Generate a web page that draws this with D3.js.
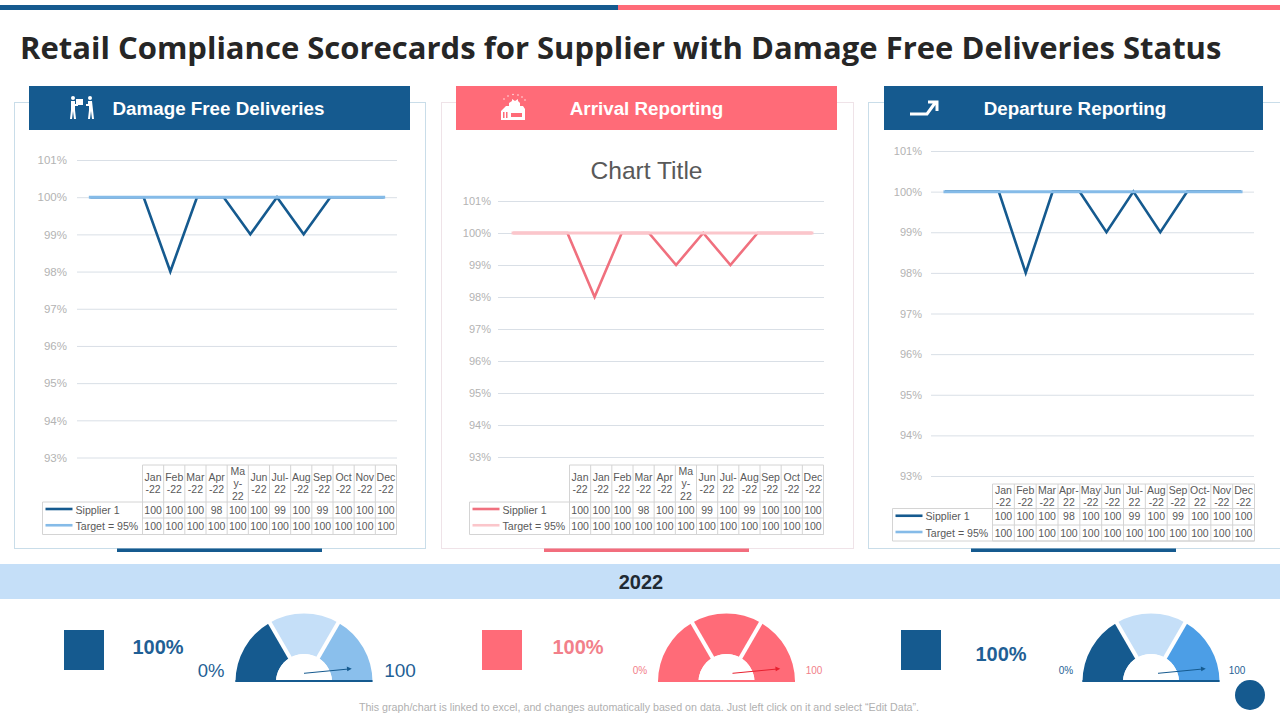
<!DOCTYPE html>
<html>
<head>
<meta charset="utf-8">
<script src="https://cdn.jsdelivr.net/npm/d3@7"></script>
<style>
html,body{margin:0;padding:0;background:#fff;overflow:hidden}
svg{display:block}
text{font-family:"Liberation Sans",Arial,sans-serif}
</style>
</head>
<body>
<svg id="chart" width="1280" height="720"></svg>
<script>
// chart data
const supplier1 = [100,100,100,98,100,100,99,100,99,100,100,100];
const targetLine = [100,100,100,100,100,100,100,100,100,100,100,100];
const yTicks = [93,94,95,96,97,98,99,100,101];
const seriesNames = ["Sipplier 1","Target = 95%"];

// month labels wrap differently in each table, the middle one also repeats Jan and has no Nov
const monthsA = [["Jan","-22"],["Feb","-22"],["Mar","-22"],["Apr","-22"],["Ma","y-","22"],["Jun","-22"],["Jul-","22"],["Aug","-22"],["Sep","-22"],["Oct","-22"],["Nov","-22"],["Dec","-22"]];
const monthsB = [["Jan","-22"],["Jan","-22"],["Feb","-22"],["Mar","-22"],["Apr","-22"],["Ma","y-","22"],["Jun","-22"],["Jul-","22"],["Aug","-22"],["Sep","-22"],["Oct","-22"],["Dec","-22"]];
const monthsC = [["Jan","-22"],["Feb","-22"],["Mar","-22"],["Apr-","22"],["May","-22"],["Jun","-22"],["Jul-","22"],["Aug","-22"],["Sep","-22"],["Oct-","22"],["Nov","-22"],["Dec","-22"]];

const gaugeSegments = [1,1,1];
const gaugeValue = 100;

const blue = "#155a8f";
const coral = "#ff6b78";

const svg = d3.select("#chart");

// top bar
svg.append("rect").attr("x",0).attr("y",5).attr("width",618).attr("height",5).attr("fill",blue);
svg.append("rect").attr("x",618).attr("y",5).attr("width",662).attr("height",5).attr("fill",coral);

svg.append("text")
  .attr("x",20).attr("y",59)
  .style("font-family","'Open Sans'")
  .style("font-weight",700)
  .style("font-size","31px")
  .attr("fill","#262626")
  .text("Retail Compliance Scorecards for Supplier with Damage Free Deliveries Status");

// each scorecard panel
let drawPanel = (c)=>{
  let g = svg.append("g");

  g.append("rect")
    .attr("x",c.box[0]+.5).attr("y",102.5)
    .attr("width",c.box[1]-c.box[0]).attr("height",446)
    .attr("fill","#fff").attr("stroke",c.border);

  g.append("rect")
    .attr("x",c.head[0]).attr("y",86)
    .attr("width",c.head[1]-c.head[0]).attr("height",44)
    .attr("fill",c.color);

  g.append("text")
    .attr("x",c.titleX).attr("y",115)
    .attr("text-anchor","middle")
    .attr("fill","#fff")
    .style("font-weight",700)
    .style("font-size","18.8px")
    .text(c.title);

  g.append("rect")
    .attr("x",c.accent).attr("y",548.5)
    .attr("width",205).attr("height",3.5)
    .attr("fill",c.accentColor);

  if(c.chartTitle){
    g.append("text")
      .attr("x",646.5).attr("y",179)
      .attr("text-anchor","middle")
      .attr("fill","#595959")
      .style("font-size","24.6px")
      .text(c.chartTitle);
  }

  let xScale = d3.scaleBand().domain(d3.range(12)).range([c.plot[0]+c.lineShift,c.plot[1]+c.lineShift]);
  let yScale = d3.scaleLinear().domain([93,101]).range([c.y93,c.y101]);

  let yAxis = d3.axisLeft(yScale)
    .tickValues(yTicks)
    .tickSize(c.plot[0]-c.plot[1])
    .tickPadding(c.tickPad)
    .tickFormat(d=>d+"%");

  let axisG = g.append("g")
    .attr("transform","translate("+c.plot[0]+",0)")
    .call(yAxis);
  axisG.select(".domain").remove();
  axisG.selectAll(".tick line")
    .attr("x1",0).attr("x2",c.plot[1]-c.plot[0])
    .attr("stroke","#d9dfe6");
  axisG.selectAll(".tick text")
    .attr("fill","#b3b3b3")
    .style("font-family","'Liberation Sans'")
    .style("font-size",c.tickFont);

  let line = d3.line()
    .x((d,i)=>xScale(i)+xScale.bandwidth()/2)
    .y(d=>yScale(d));

  g.append("path").datum(supplier1)
    .attr("d",line).attr("fill","none")
    .attr("stroke",c.lineColor).attr("stroke-width",2.6);
  g.append("path").datum(targetLine)
    .attr("d",line).attr("fill","none")
    .attr("stroke",c.targetColor).attr("stroke-width",3)
    .attr("stroke-linecap","square");

  drawTable(g,c);
};

// data table under the plot
let drawTable = (g,c)=>{
  let t = c.table;
  let colScale = d3.scaleBand().domain(d3.range(12)).range([t.colStart,t.right]);
  let rowBottoms = [t.head,t.row1,t.row2];
  let gridColor = "#d4d4d4";
  let edge = (x1,y1,x2,y2)=>g.append("line")
    .attr("x1",x1).attr("y1",y1).attr("x2",x2).attr("y2",y2)
    .attr("stroke",gridColor).attr("stroke-width",1);

  edge(t.colStart,t.top,t.right,t.top);
  rowBottoms.forEach((y,i)=>edge(i==0?t.left:t.colStart,y,t.right,y));
  rowBottoms.slice(2).forEach(y=>edge(t.left,y,t.right,y));
  edge(t.left,t.head,t.left,t.row2);
  d3.range(13).forEach(i=>{
    let x = i==12 ? t.right : colScale(i);
    edge(x,t.top,x,t.row2);
  });

  c.months.forEach((lines,i)=>{
    let cx = colScale(i)+colScale.bandwidth()/2;
    let mid = (t.top+t.head)/2;
    lines.forEach((s,k)=>{
      g.append("text")
        .attr("x",cx)
        .attr("y",mid+(k-(lines.length-1)/2)*12.4+3.7)
        .attr("text-anchor","middle")
        .attr("fill","#595959")
        .style("font-size","10.5px")
        .text(s);
    });
  });

  [supplier1,targetLine].forEach((values,r)=>{
    let top = rowBottoms[r], bottom = rowBottoms[r+1], mid = (top+bottom)/2;
    g.append("line")
      .attr("x1",t.left+3).attr("x2",t.left+30)
      .attr("y1",mid-1).attr("y2",mid-1)
      .attr("stroke",r==0?c.lineColor:c.targetColor)
      .attr("stroke-width",2.6);
    g.append("text")
      .attr("x",t.left+33).attr("y",mid+3.5)
      .attr("fill","#595959")
      .style("font-size","10.6px")
      .text(seriesNames[r]);
    values.forEach((v,i)=>{
      g.append("text")
        .attr("x",colScale(i)+colScale.bandwidth()/2)
        .attr("y",mid+3.5)
        .attr("text-anchor","middle")
        .attr("fill","#595959")
        .style("font-size","10.5px")
        .text(v);
    });
  });
};

const panels = [
  {title:"Damage Free Deliveries",titleX:218.5,box:[14,425],head:[29,410],color:blue,accent:117,accentColor:blue,
   border:"#c9dde9",plot:[77,397],lineShift:0,y101:160,y93:457.5,tickPad:10,tickFont:"11.5px",
   lineColor:blue,targetColor:"#85bbe8",months:monthsA,
   table:{left:42.5,colStart:142.5,right:396.5,top:465,head:502,row1:518,row2:534.5}},
  {title:"Arrival Reporting",titleX:646.5,box:[441,853],head:[456,837],color:coral,accent:544,accentColor:"#f26d7d",
   border:"#efe3e8",plot:[498,824],lineShift:1.5,y101:201,y93:457,tickPad:7,tickFont:"11px",chartTitle:"Chart Title",
   lineColor:"#f0707e",targetColor:"#fbc6cb",months:monthsB,
   table:{left:469.5,colStart:569.5,right:823.5,top:465,head:502,row1:518,row2:534.5}},
  {title:"Departure Reporting",titleX:1075,box:[868,1280],head:[884,1263],color:blue,accent:971,accentColor:blue,
   border:"#c9dde9",plot:[931,1254],lineShift:.5,y101:151,y93:476,tickPad:9,tickFont:"11px",
   lineColor:blue,targetColor:"#85bbe8",months:monthsC,
   table:{left:892.5,colStart:992.5,right:1254.5,top:484,head:508.5,row1:525,row2:541}}
];
panels.forEach(drawPanel);

// header icons
let icon1 = svg.append("g").attr("fill","#fff").attr("stroke","none");
icon1.append("circle").attr("cx",73).attr("cy",98).attr("r",2);
icon1.append("circle").attr("cx",90).attr("cy",98).attr("r",2);
icon1.append("path").attr("d","M71 101h4v3h3v2h-3v4l1 9h-2l-1-8-1 8h-2l1-9z");
icon1.append("path").attr("d","M88 101h4l1 9 1 9h-2l-1-8-1 8h-2l1-9v-4h-3v-2h2z");
icon1.append("rect").attr("x",76).attr("y",99).attr("width",7).attr("height",6);

let icon2 = svg.append("g").attr("fill","#fff");
icon2.append("path").attr("d","M501 120v-9l5-5h3v-3l3-2v-2l3 2 3-2v2l2 2v3h3l2 3v11z");
icon2.append("rect").attr("x",503).attr("y",112).attr("width",1.5).attr("height",6).attr("fill",coral);
icon2.append("rect").attr("x",506).attr("y",112).attr("width",1.5).attr("height",6).attr("fill",coral);
icon2.append("rect").attr("x",511).attr("y",113).attr("width",11).attr("height",4).attr("fill",coral);
icon2.selectAll("circle").data([[504,99],[508,96],[513,94.5],[518,95],[522,97],[525,100]]).enter().append("circle")
  .attr("cx",d=>d[0]).attr("cy",d=>d[1]).attr("r",.7);

svg.append("path")
  .attr("d","M910 114h17l8-11M928 102h9v9")
  .attr("fill","none").attr("stroke","#fff").attr("stroke-width",3);

// year band
svg.append("rect").attr("x",0).attr("y",564).attr("width",1280).attr("height",35).attr("fill","#c5dff8");
svg.append("text")
  .attr("x",641).attr("y",589)
  .attr("text-anchor","middle")
  .attr("fill","#1f2a33")
  .style("font-weight",700)
  .style("font-size","20px")
  .text("2022");

// gauges
let drawGauge = (c)=>{
  let g = svg.append("g");

  g.append("rect")
    .attr("x",c.square).attr("y",630)
    .attr("width",40).attr("height",40)
    .attr("fill",c.squareColor);

  g.append("text")
    .attr("x",c.pctX).attr("y",c.pctY)
    .attr("text-anchor","middle")
    .attr("fill",c.pctColor)
    .style("font-weight",700)
    .style("font-size","20px")
    .text(gaugeValue+"%");

  let pie = d3.pie().sort(null).startAngle(-Math.PI/2).endAngle(Math.PI/2);
  let arcs = pie(gaugeSegments);
  let arc = d3.arc().innerRadius(28).outerRadius(68.5);
  let base = g.append("g").attr("transform","translate("+c.cx+",682)");

  base.selectAll("path").data(arcs).enter().append("path")
    .attr("d",arc)
    .attr("fill",(d,i)=>c.colors[i]);

  // white gaps between segments
  arcs.slice(1).forEach(d=>{
    base.append("line")
      .attr("x1",Math.sin(d.startAngle)*24).attr("y1",-Math.cos(d.startAngle)*24)
      .attr("x2",Math.sin(d.startAngle)*70).attr("y2",-Math.cos(d.startAngle)*70)
      .attr("stroke","#fff").attr("stroke-width",4);
  });

  // hub and base strip
  base.append("path")
    .attr("d",d3.arc().innerRadius(0).outerRadius(28).startAngle(-Math.PI/2).endAngle(Math.PI/2)())
    .attr("fill","#fff");
  base.append("rect")
    .attr("x",-68.5).attr("y",-2).attr("width",137).attr("height",2)
    .attr("fill",c.colors[0]);

  // needle points near the end of the scale
  let needleScale = d3.scaleLinear().domain([0,100]).range([180,5.5]);
  let a = needleScale(gaugeValue)*Math.PI/180;
  let n0 = [c.needleX,673.3];
  let n1 = [n0[0]+Math.cos(a)*48,n0[1]-Math.sin(a)*48];
  base = g.append("g");
  base.append("line")
    .attr("x1",n0[0]).attr("y1",n0[1]).attr("x2",n1[0]-3).attr("y2",n1[1]+.3)
    .attr("stroke",c.needleColor).attr("stroke-width",1);
  base.append("path")
    .attr("d",d3.line()([[n1[0],n1[1]],[n1[0]-5,n1[1]-2.2],[n1[0]-4.5,n1[1]+2.6]]))
    .attr("fill",c.needleColor);

  g.append("text")
    .attr("x",c.zeroX).attr("y",c.labelY)
    .attr("text-anchor","middle")
    .attr("fill",c.labelColor)
    .style("font-size",c.zeroFont)
    .text("0%");
  g.append("text")
    .attr("x",c.maxX).attr("y",c.labelY)
    .attr("text-anchor","middle")
    .attr("fill",c.labelColor)
    .style("font-size",c.maxFont)
    .text("100");
};

[
  {square:64,squareColor:blue,pctX:158,pctY:654,pctColor:"#1f5f95",cx:304,colors:[blue,"#c5dff8","#8abfec"],
   needleX:304,needleColor:blue,zeroX:211,maxX:400,labelY:677,zeroFont:"18.5px",maxFont:"19px",labelColor:"#1f5f95"},
  {square:482,squareColor:coral,pctX:578,pctY:654,pctColor:"#f2808a",cx:726.5,colors:[coral,coral,coral],
   needleX:732.5,needleColor:"#e8202f",zeroX:640,maxX:814,labelY:674,zeroFont:"10px",maxFont:"10px",labelColor:"#f2808a"},
  {square:901,squareColor:blue,pctX:1001,pctY:661,pctColor:"#1f5f95",cx:1151,colors:[blue,"#c5dff8","#4c9ee6"],
   needleX:1158,needleColor:blue,zeroX:1066,maxX:1237,labelY:674,zeroFont:"10px",maxFont:"10px",labelColor:"#1f5f95"}
].forEach(drawGauge);

svg.append("circle").attr("cx",1250).attr("cy",695).attr("r",15).attr("fill",blue);

svg.append("text")
  .attr("x",639).attr("y",710.5)
  .attr("text-anchor","middle")
  .attr("fill","#b0b0b0")
  .style("font-size","10.7px")
  .text("This graph/chart is linked to excel, and changes automatically based on data. Just left click on it and select “Edit Data”.");
</script>
</body>
</html>
